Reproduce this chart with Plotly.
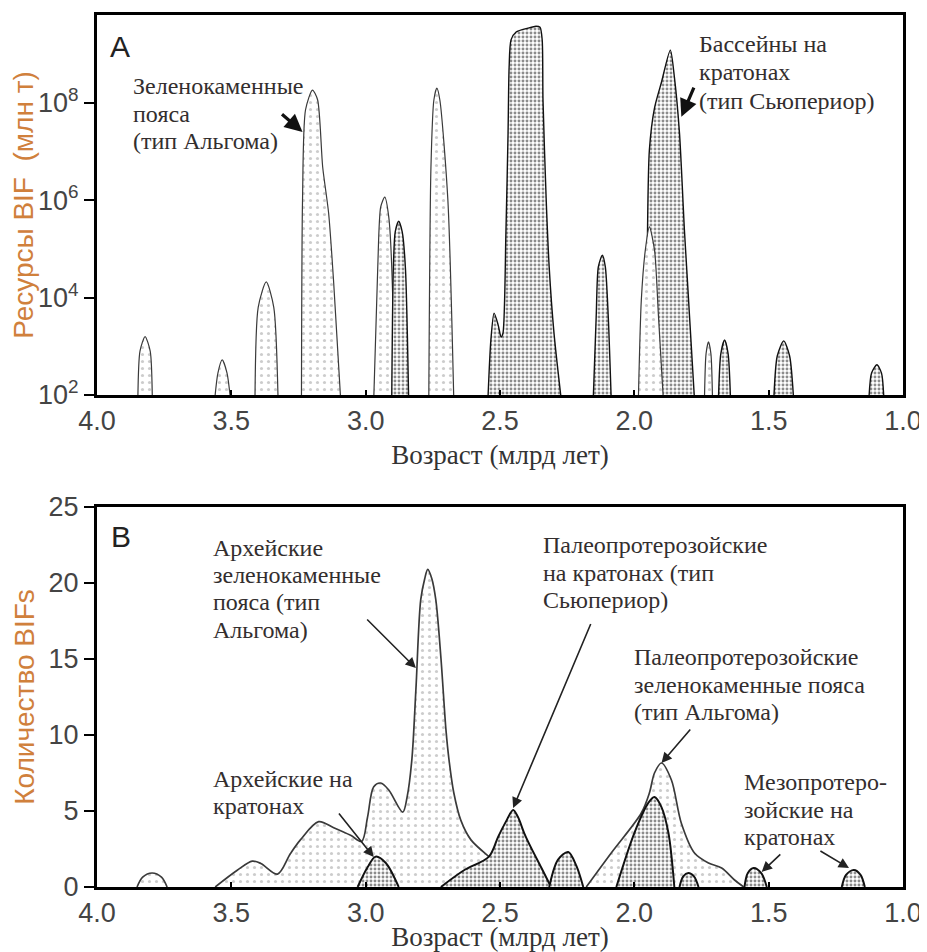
import plotly.graph_objects as go

# The page body adds an 8px margin, so the figure is drawn 8px in from the top-left.
OFF = 8
W, H = 927 - OFF, 952 - OFF

# ---------------- Panel A: BIF resources (exponent of 10, млн т) ----------------
a_alg_382_age = [3.848, 3.840, 3.821, 3.802, 3.794]
a_alg_382_exp = [1.9, 2.9, 3.2, 2.9, 1.9]
a_alg_353_age = [3.562, 3.550, 3.534, 3.516, 3.503]
a_alg_353_exp = [1.9, 2.45, 2.72, 2.45, 1.9]
a_alg_337_age = [3.412, 3.400, 3.370, 3.342, 3.326]
a_alg_337_exp = [1.9, 3.8, 4.32, 3.8, 1.9]
a_alg_320_age = [3.239, 3.235, 3.224, 3.198, 3.179, 3.160, 3.138, 3.119, 3.093]
a_alg_320_exp = [1.9, 6.00, 7.85, 8.26, 8.06, 6.68, 5.74, 4.30, 1.9]
a_alg_293_age = [2.970, 2.955, 2.944, 2.929, 2.914, 2.899, 2.896]
a_alg_293_exp = [1.9, 4.63, 5.86, 6.06, 5.65, 3.95, 1.9]
a_sup_288_age = [2.903, 2.897, 2.890, 2.877, 2.864, 2.852, 2.840]
a_sup_288_exp = [1.9, 4.6, 5.35, 5.57, 5.35, 4.6, 1.9]
a_alg_273_age = [2.765, 2.757, 2.746, 2.735, 2.724, 2.694, 2.672]
a_alg_273_exp = [1.9, 6.68, 8.06, 8.30, 8.06, 6.00, 1.9]
a_sup_240_age = [2.545, 2.534, 2.522, 2.507, 2.496, 2.489, 2.478, 2.470, 2.466, 2.459,
                 2.440, 2.396, 2.366, 2.351, 2.343, 2.340, 2.328, 2.317, 2.299, 2.272]
a_sup_240_exp = [1.9, 3.13, 3.68, 3.44, 3.19, 3.27, 5.33, 7.38, 8.73, 9.29,
                 9.45, 9.53, 9.57, 9.55, 9.29, 8.06, 6.00, 4.63, 3.27, 1.9]
a_sup_212_age = [2.153, 2.142, 2.134, 2.119, 2.108, 2.097, 2.086]
a_sup_212_exp = [1.9, 3.6, 4.63, 4.87, 4.63, 3.6, 1.9]
a_sup_187_age = [1.955, 1.951, 1.944, 1.925, 1.899, 1.866, 1.851, 1.832, 1.813, 1.776]
a_sup_187_exp = [1.9, 5.33, 7.03, 7.89, 8.42, 9.08, 8.53, 7.38, 5.33, 1.9]
a_alg_195_age = [1.985, 1.974, 1.959, 1.944, 1.925, 1.910, 1.892]
a_alg_195_exp = [1.9, 3.95, 4.98, 5.45, 4.98, 3.6, 1.9]
a_alg_172_age = [1.739, 1.733, 1.724, 1.715, 1.709]
a_alg_172_exp = [1.9, 2.85, 3.09, 2.85, 1.9]
a_sup_166_age = [1.687, 1.678, 1.664, 1.651, 1.642]
a_sup_166_exp = [1.9, 2.85, 3.13, 2.85, 1.9]
a_sup_144_age = [1.481, 1.468, 1.444, 1.422, 1.407]
a_sup_144_exp = [1.9, 2.8, 3.11, 2.8, 1.9]
a_sup_110_age = [1.127, 1.117, 1.097, 1.080, 1.071]
a_sup_110_exp = [1.9, 2.45, 2.62, 2.45, 1.9]

panel_a = [
    ("alg", a_alg_382_age, a_alg_382_exp),
    ("alg", a_alg_353_age, a_alg_353_exp),
    ("alg", a_alg_337_age, a_alg_337_exp),
    ("alg", a_alg_320_age, a_alg_320_exp),
    ("alg", a_alg_293_age, a_alg_293_exp),
    ("sup", a_sup_288_age, a_sup_288_exp),
    ("alg", a_alg_273_age, a_alg_273_exp),
    ("sup", a_sup_240_age, a_sup_240_exp),
    ("sup", a_sup_212_age, a_sup_212_exp),
    ("sup", a_sup_187_age, a_sup_187_exp),
    ("alg", a_alg_195_age, a_alg_195_exp),
    ("alg", a_alg_172_age, a_alg_172_exp),
    ("sup", a_sup_166_age, a_sup_166_exp),
    ("sup", a_sup_144_age, a_sup_144_exp),
    ("sup", a_sup_110_age, a_sup_110_exp),
]

# ---------------- Panel B: number of BIFs ----------------
b_alg_380_age = [3.851, 3.830, 3.795, 3.760, 3.739]
b_alg_380_cnt = [0, 0.65, 0.92, 0.65, 0]
b_alg_arch_age = [3.56, 3.478, 3.422, 3.39, 3.328, 3.28, 3.243, 3.175, 3.119, 3.056, 3.015,
                  2.993, 2.970, 2.944, 2.914, 2.862, 2.845, 2.828, 2.813, 2.795, 2.780, 2.769,
                  2.754, 2.739, 2.720, 2.701, 2.690, 2.672, 2.646, 2.608, 2.541, 2.478, 2.384, 2.317]
b_alg_arch_cnt = [0, 1.1, 1.7, 1.55, 0.85, 2.2, 3.1, 4.3, 3.9, 3.4, 3.0,
                  4.6, 6.6, 6.84, 6.38, 4.93, 6.0, 8.4, 13.0, 18.9, 20.3, 20.9,
                  20.3, 18.9, 15.1, 10.3, 8.4, 6.2, 4.4, 3.1, 2.0, 1.1, 0.5, 0]
b_sup_arch_age = [3.03, 2.993, 2.963, 2.925, 2.877]
b_sup_arch_cnt = [0, 1.3, 2.0, 1.58, 0]
b_sup_245_age = [2.72, 2.634, 2.541, 2.507, 2.478, 2.451, 2.433, 2.41, 2.384, 2.347, 2.31]
b_sup_245_cnt = [0, 1.1, 2.0, 3.3, 4.3, 5.07, 4.6, 3.55, 2.57, 1.3, 0]
b_sup_225_age = [2.317, 2.284, 2.246, 2.216, 2.19]
b_sup_225_cnt = [0, 1.8, 2.3, 1.4, 0]
b_alg_paleo_age = [2.179, 2.086, 1.974, 1.944, 1.925, 1.899, 1.862, 1.825, 1.776, 1.724,
                   1.675, 1.627, 1.593]
b_alg_paleo_cnt = [0, 2.24, 4.87, 6.18, 7.5, 8.16, 7.04, 4.2, 2.24, 1.58, 1.25, 0.46, 0]
b_sup_193_age = [2.067, 2.0, 1.948, 1.925, 1.899, 1.873, 1.851]
b_sup_193_cnt = [0, 3.55, 5.53, 5.92, 5.26, 3.55, 0]
b_sup_180_age = [1.832, 1.818, 1.799, 1.778, 1.761]
b_sup_180_cnt = [0, 0.7, 0.92, 0.7, 0]
b_sup_155_age = [1.590, 1.578, 1.556, 1.527, 1.507]
b_sup_155_cnt = [0, 0.9, 1.25, 0.9, 0]
b_sup_118_age = [1.228, 1.212, 1.183, 1.158, 1.142]
b_sup_118_cnt = [0, 0.8, 1.12, 0.8, 0]

panel_b = [
    ("alg", b_alg_380_age, b_alg_380_cnt),
    ("alg", b_alg_arch_age, b_alg_arch_cnt),
    ("sup", b_sup_arch_age, b_sup_arch_cnt),
    ("sup", b_sup_245_age, b_sup_245_cnt),
    ("sup", b_sup_225_age, b_sup_225_cnt),
    ("alg", b_alg_paleo_age, b_alg_paleo_cnt),
    ("sup", b_sup_193_age, b_sup_193_cnt),
    ("sup", b_sup_180_age, b_sup_180_cnt),
    ("sup", b_sup_155_age, b_sup_155_cnt),
    ("sup", b_sup_118_age, b_sup_118_cnt),
]

x_ticks = [4.0, 3.5, 3.0, 2.5, 2.0, 1.5, 1.0]
a_y_ticks = [1e2, 1e4, 1e6, 1e8]
a_y_ticktext = ["10<sup>2</sup>", "10<sup>4</sup>", "10<sup>6</sup>", "10<sup>8</sup>"]
b_y_ticks = [0, 5, 10, 15, 20, 25]

# annotation texts (one entry per printed line)
note_greenstone_a = ["Зеленокаменные", "пояса", "(тип Альгома)"]
note_basins_a = ["Бассейны на", "кратонах", "(тип Сьюпериор)"]
note_arch_alg = ["Архейские", "зеленокаменные", "пояса (тип", "Альгома)"]
note_arch_sup = ["Архейские на", "кратонах"]
note_paleo_sup = ["Палеопротерозойские", "на кратонах (тип", "Сьюпериор)"]
note_paleo_alg = ["Палеопротерозойские", "зеленокаменные пояса", "(тип Альгома)"]
note_meso = ["Мезопротеро-", "зойские на", "кратонах"]

STYLE = {
    "alg": dict(line=dict(color="#3a3a3a", width=1.2),
                pattern=dict(shape=".", fgcolor="#9a9a9a", bgcolor="white", size=7, solidity=0.16)),
    "sup": dict(line=dict(color="#111111", width=1.4),
                pattern=dict(shape=".", fgcolor="#1a1a1a", bgcolor="white", size=4, solidity=0.42)),
}

fig = go.Figure()

def add_shape_trace(kind, xs, ys, xa, ya, smooth, lw_scale=1.0):
    st = STYLE[kind]
    fig.add_trace(go.Scatter(
        x=xs, y=ys, mode="lines", fill="toself", fillcolor="white",
        fillpattern=st["pattern"],
        line=dict(color=st["line"]["color"], width=st["line"]["width"] * lw_scale,
                  shape="spline", smoothing=smooth),
        xaxis=xa, yaxis=ya, hoverinfo="skip", showlegend=False))

for kind, ages, exps in panel_a:
    add_shape_trace(kind, ages, [10 ** e for e in exps], "x", "y", 0.7)

for kind, ages, cnts in panel_b:
    add_shape_trace(kind, ages, cnts, "x2", "y2", 0.9, 1.4)

# page-pixel -> paper coordinates
def px(x):
    return (x - OFF) / W

def py(y):
    return 1 - (y - OFF) / H

SANS = "Liberation Sans, Arial, sans-serif"
SERIF = "Liberation Serif, Times New Roman, serif"
TICK_FONT = dict(family=SANS, size=27, color="#444444")
YTITLE_FONT = dict(family=SANS, size=28, color="#d0803c")
XTITLE_FONT = dict(family=SERIF, size=27, color="#333333")
NOTE_FONT = dict(family=SERIF, size=24, color="#332e2e")

axis_common = dict(showline=True, mirror=True, linecolor="black", linewidth=3,
                   tickcolor="black", tickwidth=2, automargin=False,
                   showgrid=False, zeroline=False, tickfont=TICK_FONT)

xdom = [px(97), px(903)]
x_common = dict(domain=xdom, range=[4.0, 1.0], tickvals=x_ticks, tickformat=".1f",
                ticks="inside", ticklen=5,
                title=dict(text="Возраст (млрд лет)", font=XTITLE_FONT, standoff=10))
fig.update_layout(
    width=W, height=H, autosize=False,
    margin=dict(l=0, r=0, t=0, b=0, autoexpand=False),
    paper_bgcolor="white", plot_bgcolor="white",
    showlegend=False,
    xaxis=dict(anchor="y", **x_common, **axis_common),
    yaxis=dict(domain=[py(395), py(15)], anchor="x", type="log", range=[2, 9.8],
               tickvals=a_y_ticks, ticktext=a_y_ticktext, ticks="outside", ticklen=10,
               title=dict(text="Ресурсы BIF\u00a0\u00a0(млн т)", font=YTITLE_FONT, standoff=2),
               **axis_common),
    xaxis2=dict(anchor="y2", **x_common, **axis_common),
    yaxis2=dict(domain=[py(887), py(507)], anchor="x2", range=[0, 25],
                tickvals=b_y_ticks, ticks="outside", ticklen=10,
                title=dict(text="Количество BIFs", font=YTITLE_FONT, standoff=6),
                **axis_common),
)

ann = []
ann.append(dict(text="A", x=px(120), y=py(46), xref="paper", yref="paper",
                xanchor="center", yanchor="middle", showarrow=False,
                font=dict(family=SANS, size=30, color="#222")))
ann.append(dict(text="B", x=px(121), y=py(536), xref="paper", yref="paper",
                xanchor="center", yanchor="middle", showarrow=False,
                font=dict(family=SANS, size=30, color="#222")))

# (lines, left x, baseline of first line, line pitch) in page pixels
notes = [
    (note_greenstone_a, 131, 95, 27.5),
    (note_basins_a, 697, 53, 28.5),
    (note_arch_alg, 211, 557, 27.2),
    (note_arch_sup, 211, 788, 27),
    (note_paleo_sup, 541, 554, 27.5),
    (note_paleo_alg, 632, 666, 27.5),
    (note_meso, 742, 791, 27.5),
]
for lines, x0, base0, pitch in notes:
    for i, t in enumerate(lines):
        base = base0 + i * pitch
        ann.append(dict(text=t, x=px(x0), y=py(base + 6), xref="paper", yref="paper",
                        xanchor="left", yanchor="bottom", align="left", showarrow=False,
                        font=NOTE_FONT))

for (tx, ty, hx, hy) in [(3.317, 7.79, 3.235, 7.40), (1.776, 8.34, 1.825, 7.71)]:
    ann.append(dict(text="", x=hx, y=hy, ax=tx, ay=ty, xref="x", yref="y",
                    axref="x", ayref="y", showarrow=True, arrowhead=2,
                    arrowsize=1.1, arrowwidth=3.2, arrowcolor="#111", standoff=0))
for (tx, ty, hx, hy) in [(3.0, 17.7, 2.813, 14.4), (3.104, 4.93, 2.970, 1.97),
                         (2.160, 17.4, 2.451, 5.2), (1.787, 10.46, 1.899, 8.16),
                         (1.451, 2.24, 1.526, 0.99), (1.313, 2.43, 1.201, 1.25)]:
    ann.append(dict(text="", x=hx, y=hy, ax=tx, ay=ty, xref="x2", yref="y2",
                    axref="x2", ayref="y2", showarrow=True, arrowhead=2,
                    arrowsize=1.3, arrowwidth=1.6, arrowcolor="#222", standoff=0))

fig.update_layout(annotations=ann)
fig.write_html("out.html")
